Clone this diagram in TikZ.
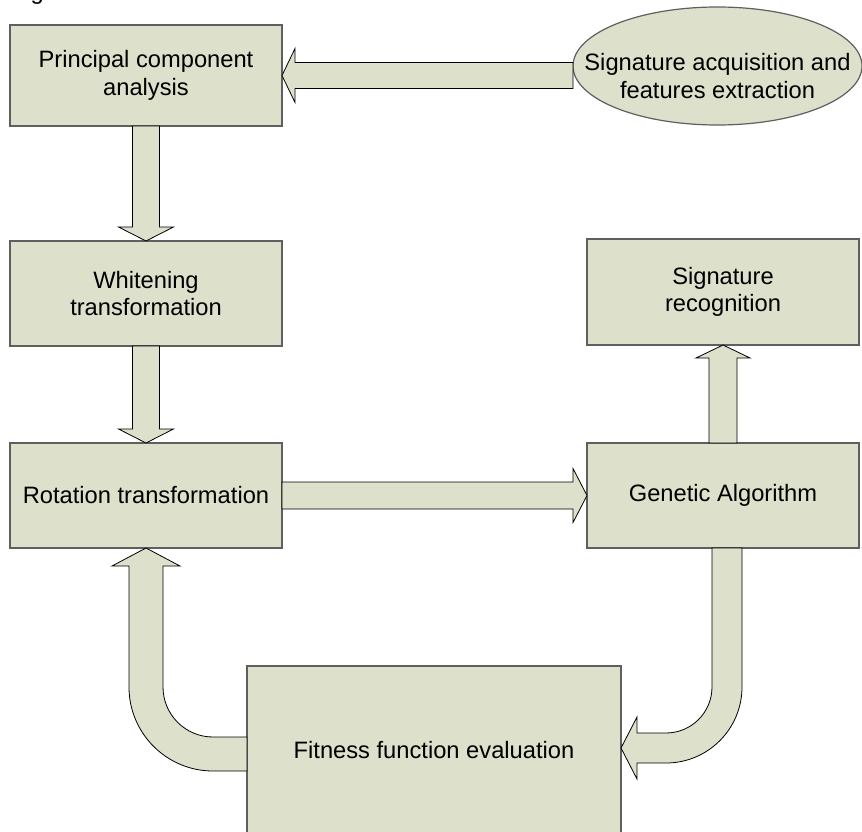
\documentclass[tikz,border=0pt]{standalone}
\usepackage{fontspec}
\setmainfont{Liberation Sans}
\usepackage{tikz}
\usetikzlibrary{arrows}
\usetikzlibrary{calc}
\usetikzlibrary{shapes.geometric}
\definecolor{boxfill}{RGB}{221,224,203}
\definecolor{boxline}{RGB}{95,95,95}

\begin{document}
\begin{tikzpicture}[x=1pt,y=-1pt,font=\fontsize{23.7}{27.5}\selectfont,
	stage/.style={draw=boxline,line width=1.2pt,fill=boxfill,inner sep=0pt,outer sep=0pt,align=center},
	barrow/.style={draw=black,line width=0.8pt,fill=boxfill,line join=miter}]
	\useasboundingbox (0,0) rectangle (862,832);
	\node[anchor=base west] (figtag) at (27,0) {g};
	% boxes
	\node[stage,minimum width=272,minimum height=101] (pca) at (146,75.5) {Principal component\\analysis};
	\node[stage,ellipse,inner xsep=-40pt,minimum width=289,minimum height=118] (sig) at (717.5,66) {\rule{0pt}{37pt}Signature acquisition and\\features extraction};
	\node[stage,minimum width=272,minimum height=105] (whit) at (146,293.5) {Whitening\\transformation};
	\node[stage,minimum width=272,minimum height=106] (srec) at (723,292) {Signature\\recognition};
	\node[stage,minimum width=272,minimum height=105] (rot) at (146,495.5) {Rotation transformation};
	\node[stage,minimum width=272,minimum height=105] (ga) at (723,495.5) {Genetic Algorithm};
	\node[stage,minimum width=374,minimum height=168] (fit) at (434,750) {Fitness function evaluation};
	% block arrows
	\foreach \from/\to in {pca/whit, whit/rot} {
		\draw[barrow] ($(\from.south)+(-13.5,0)$) -- ($(\to.north)+(-13.5,-14)$) -- ($(\to.north)+(-27.5,-14)$) -- (\to.north)
			-- ($(\to.north)+(27.5,-14)$) -- ($(\to.north)+(13.5,-14)$) -- ($(\from.south)+(13.5,0)$) -- cycle;
	}
	\draw[barrow] ($(pca.east -| sig.west)+(0,-13)$) -- ($(pca.east)+(13,-13)$) -- ($(pca.east)+(13,-27)$) -- (pca.east)
		-- ($(pca.east)+(13,27)$) -- ($(pca.east)+(13,13)$) -- ($(pca.east -| sig.west)+(0,13)$) -- cycle;
	\draw[barrow] ($(rot.east)+(0,-13.5)$) -- ($(ga.west)+(-14,-13.5)$) -- ($(ga.west)+(-14,-27)$) -- (ga.west)
		-- ($(ga.west)+(-14,27)$) -- ($(ga.west)+(-14,13.5)$) -- ($(rot.east)+(0,13.5)$) -- cycle;
	\draw[barrow] ($(ga.north)+(-14,0)$) -- ($(srec.south)+(-14,13)$) -- ($(srec.south)+(-27,13)$) -- (srec.south)
		-- ($(srec.south)+(27,13)$) -- ($(srec.south)+(14,13)$) -- ($(ga.north)+(14,0)$) -- cycle;
	% bent arrows
	\draw[barrow] ($(ga.south)+(-11,0)$) -- ($(ga.south)+(19,0)$) -- ($(ga.south |- fit.east)+(19,-63)$)
		arc[start angle=0,end angle=90,radius=76] -- ($(fit.east)+(16,13)$) -- ($(fit.east)+(16,29)$) -- ($(fit.east)+(0,-2)$)
		-- ($(fit.east)+(16,-33)$) -- ($(fit.east)+(16,-17)$) -- ++(29,0) arc[start angle=90,end angle=0,radius=46] -- cycle;
	\draw[barrow] ($(fit.west)+(0,-13)$) -- ($(fit.west)+(-34,-13)$) arc[start angle=90,end angle=180,radius=50]
		-- ($(rot.south)+(17,18)$) -- ($(rot.south)+(34,18)$) -- (rot.south) -- ($(rot.south)+(-34,18)$) -- ($(rot.south)+(-17,18)$)
		-- ($(rot.south |- fit.west)+(-17,-63)$) arc[start angle=180,end angle=90,radius=84] -- ($(fit.west)+(0,21)$) -- cycle;
\end{tikzpicture}
\end{document}
